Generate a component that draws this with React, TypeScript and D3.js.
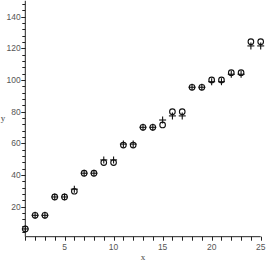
import React, { useEffect, useRef } from 'react'
import * as d3 from 'd3'

const xValues = [1, 2, 3, 4, 5, 6, 7, 8, 9, 10, 11, 12, 13, 14, 15, 16, 17, 18, 19, 20, 21, 22, 23, 24, 25]
const circleValues = [5.9, 14.5, 14.5, 26.1, 26.1, 29.7, 41.1, 41.1, 47.8, 47.8, 58.9, 58.9, 70.1, 70.1, 71.6, 80, 80, 95.4, 95.4, 100, 100, 104.6, 104.6, 124.2, 124.2]
const crossValues = [5.9, 14.5, 14.5, 26.1, 26.1, 31, 41.1, 41.1, 49.5, 49.5, 59.5, 59.5, 70.1, 70.1, 74.7, 77.3, 77.3, 95.4, 95.4, 98.9, 98.9, 103.6, 103.6, 121.5, 121.5]
const xMajorTicks = [5, 10, 15, 20, 25]
const yMajorTicks = [20, 40, 60, 80, 100, 120, 140]

const W = 266
const H = 263

export default function App() {
  const ref = useRef<SVGSVGElement>(null)

  useEffect(() => {
    const svg = d3.select(ref.current)
    svg.selectAll('*').remove()

    const x = d3.scaleLinear().domain([1, 25]).range([25.3, 260.7])
    const y = d3.scaleLinear().domain([1, 150]).range([236.7, 0.8])

    const axisG = svg.append('g').attr('stroke', '#222').attr('stroke-width', 1)

    // y axis
    axisG.append('line')
      .attr('x1', x(1)).attr('x2', x(1))
      .attr('y1', y(150)).attr('y2', y(1))
    const yMinor = d3.range(4, 151, 4)
    axisG.selectAll('.ymin').data(yMinor).enter().append('line')
      .attr('x1', x(1) - 3).attr('x2', x(1))
      .attr('y1', d => Math.round(y(d)) + 0.5).attr('y2', d => Math.round(y(d)) + 0.5)
    axisG.selectAll('.ymaj').data(yMajorTicks).enter().append('line')
      .attr('x1', x(1) - 4).attr('x2', x(1))
      .attr('y1', d => Math.round(y(d)) + 0.5).attr('y2', d => Math.round(y(d)) + 0.5)

    // x axis
    axisG.append('line')
      .attr('x1', x(1)).attr('x2', x(25))
      .attr('y1', y(1)).attr('y2', y(1))
    axisG.selectAll('.xmin').data(xValues).enter().append('line')
      .attr('x1', d => Math.round(x(d)) + 0.5).attr('x2', d => Math.round(x(d)) + 0.5)
      .attr('y1', y(1)).attr('y2', y(1) + 4)

    svg.append('g').selectAll('text').data(yMajorTicks).enter().append('text')
      .attr('x', x(1) - 4.5).attr('y', d => y(d) + 3)
      .attr('text-anchor', 'end')
      .attr('font-family', 'Liberation Sans, sans-serif')
      .attr('font-size', 8.5)
      .attr('fill', '#555')
      .text(d => d)

    svg.append('g').selectAll('text').data(xMajorTicks).enter().append('text')
      .attr('x', d => x(d)).attr('y', 249.5)
      .attr('text-anchor', 'middle')
      .attr('font-family', 'Liberation Sans, sans-serif')
      .attr('font-size', 8.5)
      .attr('fill', '#555')
      .text(d => d)

    svg.append('text').attr('x', 143).attr('y', 260)
      .attr('text-anchor', 'middle')
      .attr('font-family', 'Liberation Serif, serif')
      .attr('font-size', 9).attr('fill', '#444')
      .text('x')
    svg.append('text').attr('x', 3).attr('y', 121)
      .attr('text-anchor', 'middle')
      .attr('font-family', 'Liberation Serif, serif')
      .attr('font-size', 9).attr('fill', '#444')
      .text('y')

    // circle series
    svg.append('g').selectAll('circle').data(xValues).enter().append('circle')
      .attr('cx', (d, i) => x(d)).attr('cy', (d, i) => y(circleValues[i]))
      .attr('r', 2.8)
      .attr('fill', 'none').attr('stroke', '#111').attr('stroke-width', 1.1)

    // cross series
    const cross = svg.append('g').attr('stroke', '#111').attr('stroke-width', 1.1)
    cross.selectAll('.h').data(xValues).enter().append('line')
      .attr('x1', d => x(d) - 3.5).attr('x2', d => x(d) + 3.5)
      .attr('y1', (d, i) => y(crossValues[i])).attr('y2', (d, i) => y(crossValues[i]))
    cross.selectAll('.v').data(xValues).enter().append('line')
      .attr('x1', d => x(d)).attr('x2', d => x(d))
      .attr('y1', (d, i) => y(crossValues[i]) - 3.5).attr('y2', (d, i) => y(crossValues[i]) + 3.5)
  }, [])

  return (
    <svg ref={ref} width={W} height={H}
      style={{ position: 'absolute', left: 0, top: 0, background: '#fff' }} />
  )
}
